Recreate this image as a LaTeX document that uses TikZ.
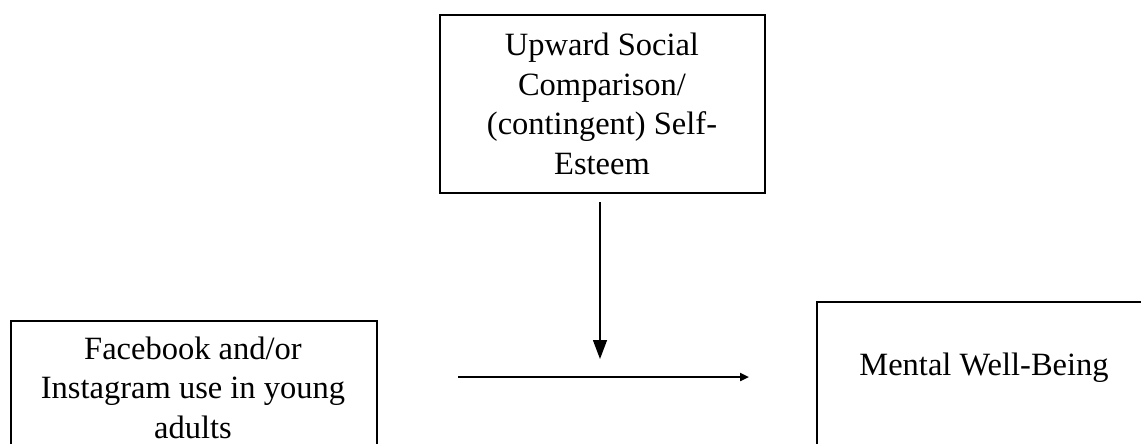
\documentclass[tikz,border=0pt]{standalone}
\usepackage{fontspec}
\setmainfont{Liberation Serif}
\usetikzlibrary{arrows.meta}
\begin{document}
\begin{tikzpicture}[x=1pt,y=-1pt,
  boxshape/.style={draw=black, line width=2.1pt, rectangle, inner sep=0pt},
  lbl/.style={align=center, font=\fontsize{32.5}{39.5}\selectfont, inner sep=0pt},
  modarrow/.style={draw=black, line width=1.4pt, -{Triangle[width=14pt,length=19pt]}},
  mainarrow/.style={draw=black, line width=2.4pt, -{Triangle[width=8pt,length=9pt]}}]
\useasboundingbox (0,0) rectangle (1141,444);
\clip (0,0) rectangle (1141,444);
% top moderator box
\node (top) [boxshape, minimum width=325pt, minimum height=178pt] at (602.5,104) {};
\node (toptext) [lbl] at (602,104) {Upward Social\\Comparison/\\(contingent) Self-\\Esteem};
% left box (cut off at the bottom)
\node (fb) [boxshape, minimum width=366pt, minimum height=200pt, anchor=north west] at (10,320) {};
\node (fbtext) [lbl, anchor=base] at (193,438) {Facebook and/or\\Instagram use in young\\adults};
% right box (cut off at the bottom and right)
\node (mw) [boxshape, minimum width=400pt, minimum height=220pt, anchor=north west] at (816,301) {};
\node (mwtext) [lbl, anchor=base] at (984,375) {Mental Well-Being};
% arrows
\coordinate (vs) at (600,202);
\coordinate (ve) at (600,359);
\coordinate (hs) at (458,377);
\coordinate (he) at (749,377);
\draw[modarrow] (vs) -- (ve);
\draw[mainarrow] (hs) -- (he);
\end{tikzpicture}
\end{document}
